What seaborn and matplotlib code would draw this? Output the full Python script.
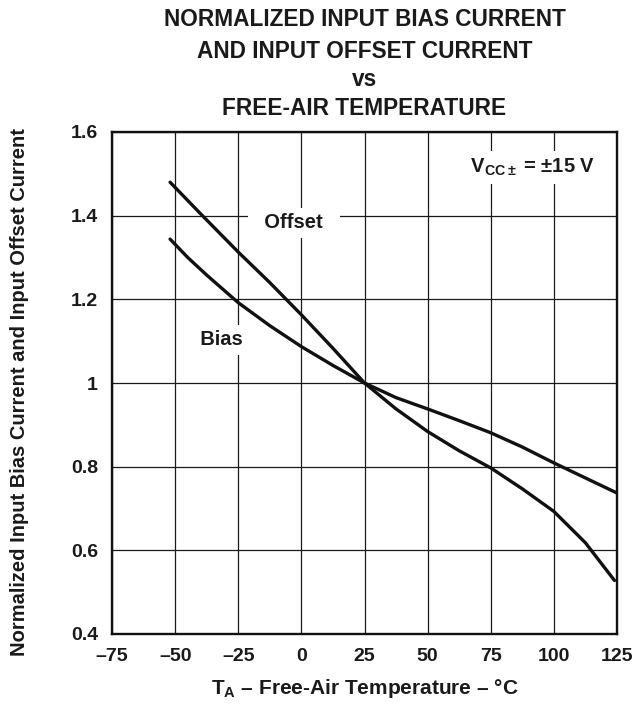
import pandas as pd
import numpy as np
import matplotlib
matplotlib.use('Agg')
import matplotlib.pyplot as plt
import seaborn as sns

# Valores
temp_offset = [-52, -40, -25, -12.5, 0, 12.5, 25, 37.5, 50, 62.5, 75, 87.5, 100, 112.5, 124]
offset = [1.48, 1.405, 1.313, 1.24, 1.163, 1.083, 1.0, 0.938, 0.884, 0.838, 0.797, 0.747, 0.693, 0.618, 0.528]

temp_bias = [-52, -45, -37.5, -25, -12.5, 0, 12.5, 25, 37.5, 50, 62.5, 75, 87.5, 100, 112.5, 125]
bias = [1.344, 1.30, 1.258, 1.192, 1.137, 1.087, 1.042, 1.0, 0.965, 0.938, 0.91, 0.881, 0.847, 0.809, 0.773, 0.737]

x_ticks = [-75, -50, -25, 0, 25, 50, 75, 100, 125]
x_labels = ['–75', '–50', '–25', '0', '25', '50', '75', '100', '125']
y_ticks = [0.4, 0.6, 0.8, 1.0, 1.2, 1.4, 1.6]
y_labels = ['0.4', '0.6', '0.8', '1', '1.2', '1.4', '1.6']

titulo = ['NORMALIZED INPUT BIAS CURRENT', 'AND INPUT OFFSET CURRENT', 'vs', 'FREE-AIR TEMPERATURE']

df = pd.concat([
    pd.DataFrame({'Temp': temp_offset, 'Valor': offset, 'Curva': 'Offset'}),
    pd.DataFrame({'Temp': temp_bias, 'Valor': bias, 'Curva': 'Bias'}),
])

sns.set_style('white')
plt.rcParams['font.family'] = ['Liberation Sans', 'DejaVu Sans']
plt.rcParams['font.weight'] = 'bold'
plt.rcParams['mathtext.fontset'] = 'custom'
plt.rcParams['mathtext.rm'] = 'Liberation Sans:bold'
plt.rcParams['mathtext.bf'] = 'Liberation Sans:bold'
plt.rcParams['mathtext.it'] = 'Liberation Sans:bold'

W, H = 639, 704
fig = plt.figure(figsize=(W / 100, H / 100), dpi=100)
ax = fig.add_axes([112 / W, (H - 634) / H, 505 / W, 502 / H])

sns.lineplot(data=df, x='Temp', y='Valor', hue='Curva', palette=['#111111', '#111111'],
             linewidth=2.4, legend=False, ax=ax, sort=True, zorder=3)

ax.set_xlim(-75, 125)
ax.set_ylim(0.4, 1.6)
ax.set_xticks(x_ticks)
ax.set_xticklabels(x_labels, fontsize=14, fontweight='bold', color='#1a1a1a')
ax.set_yticks(y_ticks)
ax.set_yticklabels(y_labels, fontsize=14, fontweight='bold', color='#1a1a1a')
ax.tick_params(axis='x', length=0, pad=10)
ax.tick_params(axis='y', length=0, pad=10)
ax.grid(True, color='#1a1a1a', linewidth=0.9)
for s in ax.spines.values():
    s.set_linewidth(1.7)
    s.set_color('#111111')

caixa = dict(facecolor='white', edgecolor='none', pad=4)
ax.text(-3, 1.383, '  Offset  ', fontsize=14.5, fontweight='bold', ha='center', va='center',
        bbox=caixa, zorder=4, color='#1a1a1a')
ax.text(-31.5, 1.103, '  Bias  ', fontsize=14.5, fontweight='bold', ha='center', va='center',
        bbox=caixa, zorder=4, color='#1a1a1a')
ax.text(90.5, 1.515, r' V$_{\mathrm{CC}\pm}$ = $\pm$15 V ', fontsize=14.5, fontweight='bold',
        ha='center', va='center', bbox=caixa, zorder=4, color='#1a1a1a')

ax.set_xlabel(r'T$_{\mathrm{A}}$ – Free-Air Temperature – °C', fontsize=15, fontweight='bold',
              labelpad=9, color='#1a1a1a')
ax.set_ylabel('')
fig.text(19.5 / W, 1 - 392 / H, 'Normalized Input Bias Current and Input Offset Current',
         rotation=90, ha='center', va='center', fontsize=14.5, fontweight='bold', color='#1a1a1a')

# linhas do título (linhas de base em pixels)
for linha, base in zip(titulo, [26, 57.5, 86.5, 115]):
    fig.text(364.5 / W, 1 - base / H, linha, ha='center', va='baseline',
             fontsize=16.3, fontweight='bold', color='#1a1a1a')

plt.savefig('out.png', dpi=100)
